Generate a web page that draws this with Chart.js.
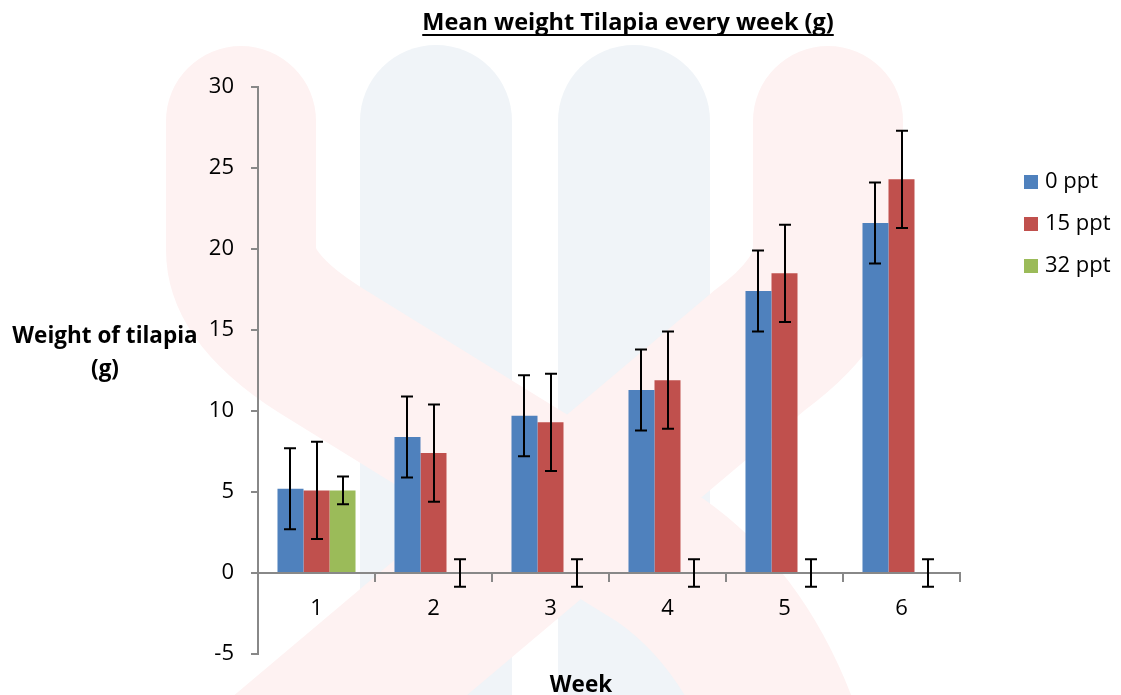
<!DOCTYPE html>
<html>
<head>
<meta charset="utf-8">
<script src="https://cdn.jsdelivr.net/npm/chart.js@4.4.0/dist/chart.umd.min.js"></script>
<style>
  html, body { margin: 0; padding: 0; background: #fff; }
  #wrap { width: 1121px; height: 695px; position: relative; }
</style>
</head>
<body>
<div id="wrap"><canvas id="tilapiaChart" width="1121" height="695"></canvas></div>
<script>
// Data
const weeks = ['1', '2', '3', '4', '5', '6'];
const seriesNames = ['0 ppt', '15 ppt', '32 ppt'];
const mean0 = [5.2, 8.4, 9.7, 11.3, 17.4, 21.6];
const mean15 = [5.1, 7.4, 9.3, 11.9, 18.5, 24.3];
const mean32 = [5.1, 0, 0, 0, 0, 0];
const err0 = [2.5, 2.5, 2.5, 2.5, 2.5, 2.5];
const err15 = [3, 3, 3, 3, 3, 3];
const err32 = [0.85, 0.85, 0.85, 0.85, 0.85, 0.85];
const yMin = -5;
const yMax = 30;
const yStep = 5;

const colors = ['#4f81bd', '#c0504d', '#9bbb59'];
const errorSets = [err0, err15, err32];
const FONT = '"Open Sans", Lato, sans-serif';

// faint logo behind the chart
function pillar(ctx, x, top, w, bottom) {
    const r = w / 2;
    ctx.beginPath();
    ctx.moveTo(x, bottom);
    ctx.lineTo(x, top + r);
    ctx.arc(x + r, top + r, r, Math.PI, 0);
    ctx.lineTo(x + w, bottom);
    ctx.closePath();
    ctx.fill();
}

const watermark = {
    id: 'watermark',
    beforeDraw(chart) {
        const ctx = chart.ctx;
        ctx.save();
        ctx.fillStyle = '#f0f4f8';
        pillar(ctx, 360, 45, 152, 720);
        pillar(ctx, 558, 45, 152, 720);
        ctx.strokeStyle = '#fef2f2';
        ctx.lineWidth = 150;
        ctx.lineCap = 'round';
        ctx.lineJoin = 'round';
        ctx.beginPath();
        ctx.moveTo(241, 121);
        ctx.lineTo(241, 250);
        ctx.quadraticCurveTo(241, 300, 320, 350);
        ctx.lineTo(660, 560);
        ctx.quadraticCurveTo(760, 630, 800, 780);
        ctx.stroke();
        ctx.beginPath();
        ctx.moveTo(828, 121);
        ctx.lineTo(828, 250);
        ctx.quadraticCurveTo(828, 300, 760, 350);
        ctx.lineTo(250, 780);
        ctx.stroke();
        ctx.restore();
    }
};

const errorBars = {
    id: 'errorBars',
    afterDatasetsDraw(chart) {
        const ctx = chart.ctx;
        const yScale = chart.scales.y;
        ctx.save();
        ctx.strokeStyle = '#000';
        ctx.lineWidth = 2;
        chart.data.datasets.forEach((ds, i) => {
            const meta = chart.getDatasetMeta(i);
            meta.data.forEach((bar, j) => {
                const v = ds.data[j];
                const e = errorSets[i][j];
                const top = yScale.getPixelForValue(v + e);
                const bot = yScale.getPixelForValue(v - e);
                const x = Math.round(bar.x);
                ctx.beginPath();
                ctx.moveTo(x, top);
                ctx.lineTo(x, bot);
                ctx.moveTo(x - 6, top);
                ctx.lineTo(x + 6, top);
                ctx.moveTo(x - 6, bot);
                ctx.lineTo(x + 6, bot);
                ctx.stroke();
            });
        });
        ctx.restore();
    }
};

const labels = {
    id: 'labels',
    afterDraw(chart) {
        const ctx = chart.ctx;
        ctx.save();
        ctx.fillStyle = '#000';
        ctx.textBaseline = 'alphabetic';

        // title with underline
        ctx.font = 'bold 23.5px ' + FONT;
        ctx.textAlign = 'center';
        const title = 'Mean weight Tilapia every week (g)';
        ctx.fillText(title, 628, 30);
        const tw = ctx.measureText(title).width;
        ctx.fillRect(628 - tw / 2, 34, tw, 2);

        // axis titles
        ctx.font = 'bold 22.5px ' + FONT;
        ctx.fillText('Weight of tilapia', 105, 343);
        ctx.fillText('(g)', 105, 376);
        ctx.fillText('Week', 581, 692);

        // legend
        ctx.font = '22px ' + FONT;
        ctx.textAlign = 'left';
        ctx.textBaseline = 'middle';
        seriesNames.forEach((name, i) => {
            const cy = 182 + i * 42;
            ctx.fillStyle = colors[i];
            ctx.fillRect(1024, cy - 7, 14, 14);
            ctx.fillStyle = '#000';
            ctx.fillText(name, 1045, cy);
        });
        ctx.restore();
    }
};

const ctx = document.getElementById('tilapiaChart');
new Chart(ctx, {
    type: 'bar',
    data: {
        labels: weeks,
        datasets: [
            { label: seriesNames[0], data: mean0, backgroundColor: colors[0] },
            { label: seriesNames[1], data: mean15, backgroundColor: colors[1] },
            { label: seriesNames[2], data: mean32, backgroundColor: colors[2] }
        ]
    },
    options: {
        responsive: false,
        devicePixelRatio: 1,
        animation: false,
        layout: {
            padding: { left: 198, right: 161, top: 87, bottom: 41 }
        },
        datasets: {
            bar: { categoryPercentage: 0.667, barPercentage: 1.0, borderWidth: 0 }
        },
        scales: {
            x: {
                position: { y: 0 },
                grid: {
                    offset: true,
                    drawOnChartArea: false,
                    drawTicks: true,
                    tickLength: 8,
                    color: '#888888',
                    lineWidth: 2
                },
                border: { color: '#888888', width: 2 },
                ticks: {
                    color: '#000',
                    padding: 15,
                    font: { family: FONT, size: 22 }
                }
            },
            y: {
                min: yMin,
                max: yMax,
                afterFit(scale) { scale.width = 60; },
                grid: {
                    drawOnChartArea: false,
                    drawTicks: true,
                    tickLength: 7,
                    color: '#888888',
                    lineWidth: 2
                },
                border: { color: '#888888', width: 2 },
                ticks: {
                    stepSize: yStep,
                    color: '#000',
                    padding: 17,
                    font: { family: FONT, size: 22 }
                }
            }
        },
        plugins: {
            legend: { display: false },
            title: { display: false },
            tooltip: { enabled: false }
        }
    },
    plugins: [watermark, errorBars, labels]
});
</script>
</body>
</html>
